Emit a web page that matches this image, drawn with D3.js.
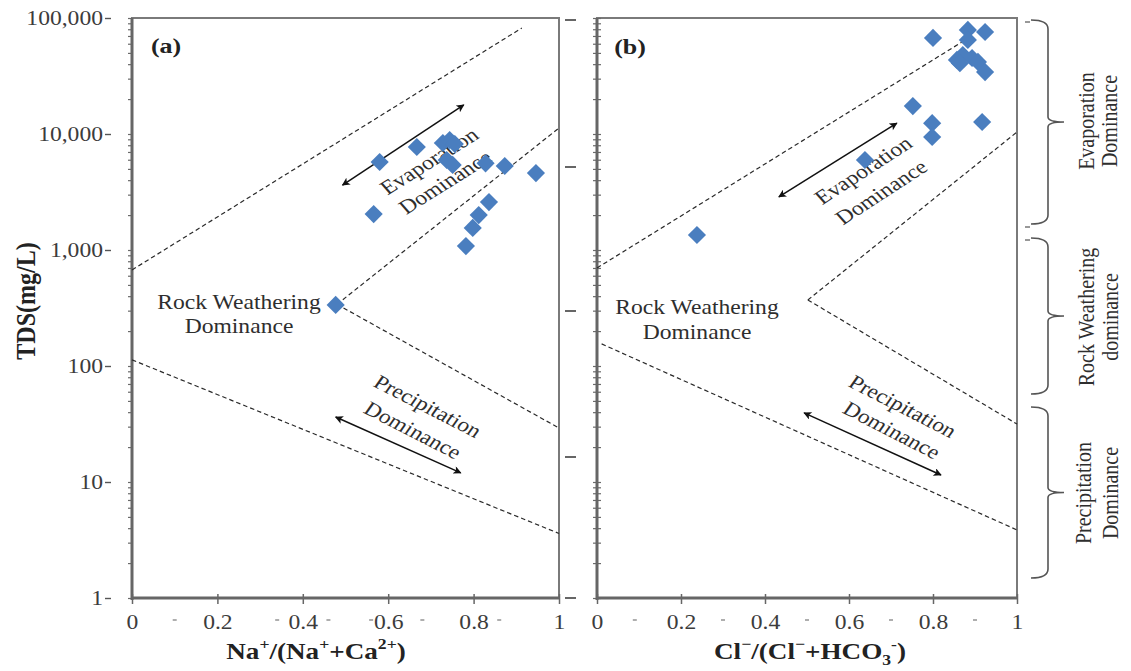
<!DOCTYPE html>
<html><head><meta charset="utf-8">
<script src="https://cdn.jsdelivr.net/npm/d3@7/dist/d3.min.js"></script>
<style>body{margin:0;background:#fff}svg{display:block}</style>
</head><body>
<svg id="c" width="1131" height="671"></svg>
<script>
// ---------- data ----------
const tdsTicks = [1, 10, 100, 1000, 10000, 100000];
const tdsTickLabels = ["1", "10", "100", "1,000", "10,000", "100,000"];
const xTicks = [0, 0.2, 0.4, 0.6, 0.8, 1];
const xTickLabels = ["0", "0.2", "0.4", "0.6", "0.8", "1"];

// panel (a): Na+/(Na+ + Ca2+) vs TDS
const naRatio = [0.58, 0.667, 0.728, 0.744, 0.756, 0.737, 0.751, 0.828, 0.873, 0.946, 0.566, 0.836, 0.812, 0.798, 0.782, 0.477];
const tdsA    = [5740, 7730, 8360, 8880, 8200, 5970, 5410, 5590, 5300, 4600, 2040, 2590, 2000, 1550, 1080, 336];

// panel (b): Cl-/(Cl- + HCO3-) vs TDS
const clRatio = [0.80, 0.883, 0.924, 0.883, 0.857, 0.871, 0.893, 0.907, 0.924, 0.864, 0.752, 0.798, 0.798, 0.917, 0.638, 0.238];
const tdsB    = [67300, 78900, 75700, 64700, 43500, 48000, 45200, 41800, 34200, 40800, 17400, 12400, 9420, 12700, 5970, 1346];

// Gibbs boundary lines (ratio, TDS)
const boundaryA = [
  [[0, 673], [0.913, 82000]],
  [[0.48, 340], [1, 11270]],
  [[0.48, 340], [1, 29.2]],
  [[0, 113], [1, 3.6]]
];
const boundaryB = [
  [[0, 700], [0.869, 62100]],
  [[0.502, 371], [1, 10400]],
  [[0.502, 371], [1, 31.6]],
  [[0.011, 155], [1, 3.86]]
];
// double-headed trend arrows (ratio, TDS)
const arrowsA = [
  [[0.493, 3630], [0.777, 17800]],
  [[0.477, 36.3], [0.770, 12.0]]
];
const arrowsB = [
  [[0.433, 2870], [0.714, 12400]],
  [[0.493, 39.4], [0.819, 11.5]]
];

// ---------- setup ----------
const SX = 1.18; // horizontal stretch of the source figure's lettering
const FONT = "'Liberation Serif','Times New Roman',serif";
const svg = d3.select("#c");
const y = d3.scaleLog().domain([1, 100000]).range([598, 18]);
const xA = d3.scaleLinear().domain([0, 1]).range([132, 559]);
const xB = d3.scaleLinear().domain([0, 1]).range([597, 1017]);

const minorVals = [];
[1, 10, 100, 1000, 10000].forEach(d => { for (let m = 2; m <= 9; m++) minorVals.push(d * m); });

const defs = svg.append("defs");
defs.append("marker").attr("id", "ah")
  .attr("viewBox", "0 0 10 10").attr("refX", 9).attr("refY", 5)
  .attr("markerWidth", 9).attr("markerHeight", 8)
  .attr("markerUnits", "userSpaceOnUse")
  .attr("orient", "auto-start-reverse")
  .append("path").attr("d", "M0,0 L10,5 L0,10 L2.5,5 z").attr("fill", "#111");

function rotFor(deg) {
  if (Math.abs(deg) === 90) return deg;
  return Math.atan(Math.tan(deg * Math.PI / 180) * SX) * 180 / Math.PI;
}
function addText(parent, content, cx, cy, o = {}) {
  const size = o.size || 20;
  const t = parent.append("text")
    .attr("transform", `translate(${cx},${cy}) scale(${SX},1) rotate(${rotFor(o.rot || 0)})`)
    .attr("y", 0.35 * size)
    .attr("text-anchor", o.anchor || "middle")
    .attr("font-family", FONT)
    .attr("font-size", size)
    .attr("font-weight", o.weight || "normal")
    .attr("fill", o.fill || "#2e2e2e");
  if (typeof content === "string") { t.text(content); return t; }
  let cur = 0;
  content.forEach(p => {
    const target = p.sup ? -0.42 * size : p.sub ? 0.25 * size : 0;
    const ts = t.append("tspan").text(p.t).attr("dy", target - cur);
    if (p.sup || p.sub) ts.attr("font-size", size * 0.65);
    cur = target;
  });
  return t;
}

function panel(x, ptsX, ptsY, bounds, arrows, showYLabels) {
  const g = svg.append("g");
  const x0 = x.range()[0], x1 = x.range()[1];
  // frame
  g.append("rect").attr("x", x0).attr("y", y(100000)).attr("width", x1 - x0).attr("height", y(1) - y(100000))
    .attr("fill", "none").attr("stroke", "#7a7a7a").attr("stroke-width", 2);

  // minor/major ticks on left axis
  const mt = g.append("g").attr("transform", `translate(${x0},0)`)
    .call(d3.axisLeft(y).tickValues(minorVals.concat(tdsTicks)).tickSize(4).tickFormat(""));
  mt.select(".domain").remove();
  mt.selectAll("line").attr("stroke", "#6a6a6a").attr("stroke-width", 1.2);
  if (!showYLabels) {
    const mr = g.append("g").attr("transform", `translate(${x0},0)`)
      .call(d3.axisRight(y).tickValues(minorVals.concat(tdsTicks)).tickSize(4).tickFormat(""));
    mr.select(".domain").remove();
    mr.selectAll("line").attr("stroke", "#6a6a6a").attr("stroke-width", 1.2);
  }
  if (showYLabels) {
    const ya = g.append("g").attr("transform", `translate(${x0},0)`)
      .call(d3.axisLeft(y).tickValues(tdsTicks).tickFormat((d, i) => tdsTickLabels[i]).tickSize(0).tickPadding(0));
    ya.select(".domain").remove();
    ya.selectAll("text")
      .attr("x", -29 / SX).attr("transform", `scale(${SX},1)`)
      .attr("font-family", FONT).attr("font-size", 20).attr("fill", "#3c3c3c");
    ya.selectAll(".tick").append("line")
      .attr("x1", -27).attr("x2", -21).attr("stroke", "#555").attr("stroke-width", 1.4);
  }

  // x axis
  const xa = g.append("g").attr("transform", `translate(0,${y(1)})`)
    .call(d3.axisBottom(x).tickValues(xTicks).tickFormat((d, i) => xTickLabels[i]).tickSize(6).tickPadding(11));
  xa.select(".domain").remove();
  xa.selectAll("line").attr("stroke", "#666").attr("stroke-width", 1.5).attr("y1", -4);
  xa.selectAll("text").attr("transform", `scale(${SX},1)`)
    .attr("font-family", FONT).attr("font-size", 20).attr("fill", "#3c3c3c");

  // heavy left and bottom axis lines
  g.append("line").attr("x1", x0).attr("x2", x0).attr("y1", y(100000)).attr("y2", y(1) + 2)
    .attr("stroke", "#666").attr("stroke-width", 3);
  g.append("line").attr("x1", x0).attr("x2", x1).attr("y1", y(1)).attr("y2", y(1))
    .attr("stroke", "#666").attr("stroke-width", 3);

  // boundary lines
  const line = d3.line().x(d => x(d[0])).y(d => y(d[1]));
  g.selectAll(".bd").data(bounds).join("path").attr("class", "bd")
    .attr("d", line).attr("fill", "none").attr("stroke", "#2a2a2a")
    .attr("stroke-width", 1.2).attr("stroke-dasharray", "4.5,3");
  // arrows
  g.selectAll(".ar").data(arrows).join("path").attr("class", "ar")
    .attr("d", line).attr("fill", "none").attr("stroke", "#111").attr("stroke-width", 1.5)
    .attr("marker-start", "url(#ah)").attr("marker-end", "url(#ah)");
  return g;
}

const gA = panel(xA, naRatio, tdsA, boundaryA, arrowsA, true);
const gB = panel(xB, clRatio, tdsB, boundaryB, arrowsB, false);

// annotations panel (a)
addText(gA, "(a)", 166, 45, {size: 22, weight: "bold", fill: "#222"});
addText(gA, "Evaporation", 429, 161, {rot: -32});
addText(gA, "Dominance", 445, 182, {rot: -32});
addText(gA, "Rock Weathering", 239, 302);
addText(gA, "Dominance", 239, 326);
addText(gA, "Precipitation", 428, 406, {rot: 27});
addText(gA, "Dominance", 413, 430, {rot: 27});

// annotations panel (b)
addText(gB, "(b)", 630, 46, {size: 22, weight: "bold", fill: "#222"});
addText(gB, "Evaporation", 863, 170, {rot: -33});
addText(gB, "Dominance", 881, 192, {rot: -33});
addText(gB, "Rock Weathering", 697, 307);
addText(gB, "Dominance", 697, 332);
addText(gB, "Precipitation", 903, 406, {rot: 27});
addText(gB, "Dominance", 892, 430, {rot: 27});

// points (drawn over text)
const diamond = d3.symbol().type(d3.symbolSquare).size(165);
function drawPts(g, x, xs, ys) {
  g.selectAll(".pt").data(xs.map((v, i) => [v, ys[i]])).join("path").attr("class", "pt")
    .attr("d", diamond)
    .attr("transform", d => `translate(${x(d[0])},${y(d[1])}) rotate(45)`)
    .attr("fill", "#4a7ebf");
}
drawPts(gA, xA, naRatio, tdsA);
drawPts(gB, xB, clRatio, tdsB);

// axis titles
addText(svg, "TDS(mg/L)", 25, 301, {rot: -90, size: 24, weight: "bold", fill: "#222"});
addText(svg, [{t: "Na"}, {t: "+", sup: 1}, {t: "/(Na"}, {t: "+", sup: 1}, {t: "+Ca"}, {t: "2+", sup: 1}, {t: ")"}],
  316, 651, {size: 23, weight: "bold", fill: "#222"});
addText(svg, [{t: "Cl"}, {t: "\u2212", sup: 1}, {t: "/(Cl"}, {t: "\u2212", sup: 1}, {t: "+HCO"}, {t: "3", sub: 1}, {t: "-", sup: 1}, {t: ")"}],
  810, 651, {size: 23, weight: "bold", fill: "#222"});

// small stray tick marks of the source figure
const gap = svg.append("g").attr("stroke", "#333").attr("stroke-width", 1.5);
[20, 167, 311, 457, 598].forEach(v => gap.append("line").attr("x1", 565).attr("x2", 576).attr("y1", v).attr("y2", v));
[22, 227, 240].forEach(v => gap.append("line").attr("x1", 1025).attr("x2", 1030).attr("y1", v).attr("y2", v).attr("stroke-width", 1));
const stray = svg.append("g").attr("stroke", "#777").attr("stroke-width", 1.2);
[0.1, 0.34, 0.46, 0.56, 0.68, 0.86].forEach(v => stray.append("line").attr("x1", xA(v) - 2).attr("x2", xA(v) + 2).attr("y1", 620).attr("y2", 620));
[0.09, 0.3, 0.5, 0.7, 0.9].forEach(v => stray.append("line").attr("x1", xB(v) - 2).attr("x2", xB(v) + 2).attr("y1", 620).attr("y2", 620));

// right-hand braces
function brace(y0, y1) {
  const xh = 1031, xv = 1048, xt = 1064, ym = (y0 + y1) / 2;
  return `M${xh},${y0} Q${xv},${y0} ${xv},${y0 + 9} L${xv},${ym - 5} Q${xv},${ym} ${xt},${ym} ` +
         `Q${xv},${ym} ${xv},${ym + 5} L${xv},${y1 - 9} Q${xv},${y1} ${xh},${y1}`;
}
const gr = svg.append("g");
[[20, 224], [238, 394], [407, 578]].forEach(r =>
  gr.append("path").attr("d", brace(r[0], r[1])).attr("fill", "none").attr("stroke", "#555").attr("stroke-width", 1.6));
addText(gr, "Evaporation", 1086, 121, {rot: -90});
addText(gr, "Dominance", 1109, 121, {rot: -90});
addText(gr, "Rock Weathering", 1086, 317, {rot: -90});
addText(gr, "dominance", 1110, 317, {rot: -90});
addText(gr, "Precipitation", 1083, 493, {rot: -90});
addText(gr, "Dominance", 1110, 493, {rot: -90});
</script>
</body></html>
